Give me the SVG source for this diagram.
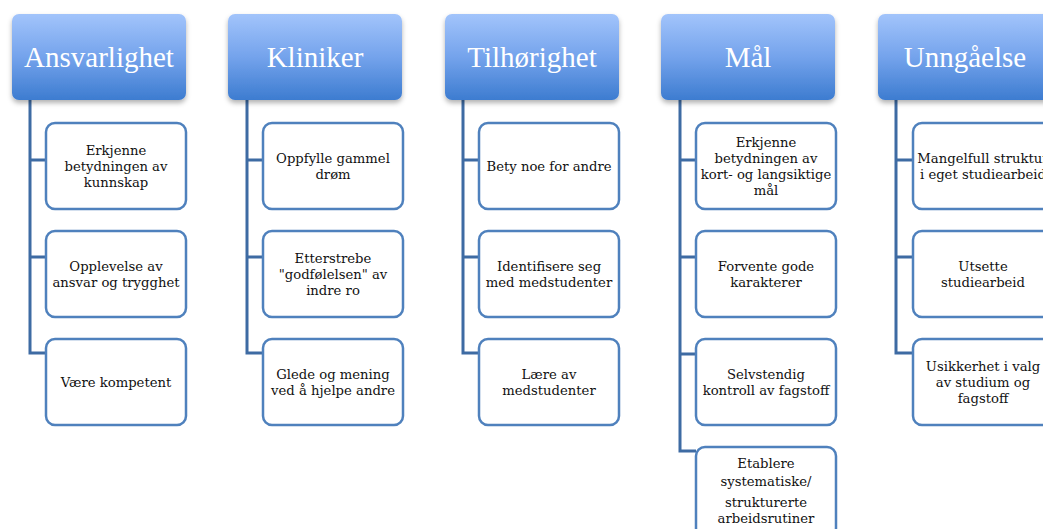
<svg xmlns="http://www.w3.org/2000/svg" width="1043" height="529" viewBox="0 0 1043 529">
<defs>
<linearGradient id="hg" x1="0" y1="0" x2="0" y2="1">
<stop offset="0" stop-color="#a2c4fb"/>
<stop offset="0.5" stop-color="#74a3ec"/>
<stop offset="1" stop-color="#3d7cd0"/>
</linearGradient>
<filter id="sh" x="-10%" y="-10%" width="120%" height="130%">
<feDropShadow dx="0" dy="3" stdDeviation="2.5" flood-color="#000" flood-opacity="0.3"/>
</filter>
<style>
.hd{fill:url(#hg);filter:url(#sh)}
.ht{font-family:"Liberation Serif","DejaVu Serif",serif;font-size:29px;fill:#fff;text-anchor:middle}
.bx{fill:#fff;stroke:#4f81bd;stroke-width:2.5}
.bt{font-family:"DejaVu Serif","Liberation Serif",serif;font-size:13.2px;fill:#111;text-anchor:middle}
.cn{fill:none;stroke:#3e6ba3;stroke-width:3}
</style>
</defs>
<rect width="1043" height="529" fill="#fff"/>
<g id="connectors">
<path class="cn" d="M30 100V353H46M30 160H46M30 257H46"/>
<path class="cn" d="M247 100V353H263M247 160H263M247 257H263"/>
<path class="cn" d="M463 100V353H479M463 160H479M463 257H479"/>
<path class="cn" d="M680 100V451H696M680 160H696M680 257H696M680 354H696"/>
<path class="cn" d="M896 100V353H913M896 160H913M896 257H913"/>
</g>
<g id="h1"><rect class="hd" x="12" y="14" width="174" height="86" rx="7"/><text class="ht" x="99" y="67">Ansvarlighet</text></g>
<g id="h2"><rect class="hd" x="228" y="14" width="174" height="86" rx="7"/><text class="ht" x="315" y="67">Kliniker</text></g>
<g id="h3"><rect class="hd" x="445" y="14" width="174" height="86" rx="7"/><text class="ht" x="532" y="67">Tilhørighet</text></g>
<g id="h4"><rect class="hd" x="661" y="14" width="174" height="86" rx="7"/><text class="ht" x="748" y="67">Mål</text></g>
<g id="h5"><rect class="hd" x="878" y="14" width="174" height="86" rx="7"/><text class="ht" x="965" y="67">Unngåelse</text></g>

<g id="a1"><rect class="bx" x="46" y="123" width="140" height="86" rx="9"/><text class="bt"><tspan x="116" y="155">Erkjenne</tspan><tspan x="116" y="171">betydningen av</tspan><tspan x="116" y="187">kunnskap</tspan></text></g>
<g id="a2"><rect class="bx" x="46" y="231" width="140" height="86" rx="9"/><text class="bt"><tspan x="116" y="271">Opplevelse av</tspan><tspan x="116" y="287">ansvar og trygghet</tspan></text></g>
<g id="a3"><rect class="bx" x="46" y="339" width="140" height="86" rx="9"/><text class="bt" x="116" y="387">Være kompetent</text></g>

<g id="k1"><rect class="bx" x="263" y="123" width="140" height="86" rx="9"/><text class="bt"><tspan x="333" y="163">Oppfylle gammel</tspan><tspan x="333" y="179">drøm</tspan></text></g>
<g id="k2"><rect class="bx" x="263" y="231" width="140" height="86" rx="9"/><text class="bt"><tspan x="333" y="263">Etterstrebe</tspan><tspan x="333" y="279">"godfølelsen" av</tspan><tspan x="333" y="295">indre ro</tspan></text></g>
<g id="k3"><rect class="bx" x="263" y="339" width="140" height="86" rx="9"/><text class="bt"><tspan x="333" y="379">Glede og mening</tspan><tspan x="333" y="395">ved å hjelpe andre</tspan></text></g>

<g id="t1"><rect class="bx" x="479" y="123" width="140" height="86" rx="9"/><text class="bt" x="549" y="171">Bety noe for andre</text></g>
<g id="t2"><rect class="bx" x="479" y="231" width="140" height="86" rx="9"/><text class="bt"><tspan x="549" y="271">Identifisere seg</tspan><tspan x="549" y="287">med medstudenter</tspan></text></g>
<g id="t3"><rect class="bx" x="479" y="339" width="140" height="86" rx="9"/><text class="bt"><tspan x="549" y="379">Lære av</tspan><tspan x="549" y="395">medstudenter</tspan></text></g>

<g id="m1"><rect class="bx" x="696" y="123" width="140" height="86" rx="9"/><text class="bt"><tspan x="766" y="147">Erkjenne</tspan><tspan x="766" y="163">betydningen av</tspan><tspan x="766" y="179">kort- og langsiktige</tspan><tspan x="766" y="195">mål</tspan></text></g>
<g id="m2"><rect class="bx" x="696" y="231" width="140" height="86" rx="9"/><text class="bt"><tspan x="766" y="271">Forvente gode</tspan><tspan x="766" y="287">karakterer</tspan></text></g>
<g id="m3"><rect class="bx" x="696" y="339" width="140" height="86" rx="9"/><text class="bt"><tspan x="766" y="379">Selvstendig</tspan><tspan x="766" y="395">kontroll av fagstoff</tspan></text></g>
<g id="m4"><rect class="bx" x="696" y="447" width="140" height="90" rx="9"/><text class="bt"><tspan x="766" y="468">Etablere</tspan><tspan x="766" y="486">systematiske/</tspan><tspan x="766" y="507">strukturerte</tspan><tspan x="766" y="523">arbeidsrutiner</tspan></text></g>

<g id="u1"><rect class="bx" x="913" y="123" width="140" height="86" rx="9"/><text class="bt"><tspan x="983" y="163">Mangelfull struktur</tspan><tspan x="983" y="179">i eget studiearbeid</tspan></text></g>
<g id="u2"><rect class="bx" x="913" y="231" width="140" height="86" rx="9"/><text class="bt"><tspan x="983" y="271">Utsette</tspan><tspan x="983" y="287">studiearbeid</tspan></text></g>
<g id="u3"><rect class="bx" x="913" y="339" width="140" height="86" rx="9"/><text class="bt"><tspan x="983" y="371">Usikkerhet i valg</tspan><tspan x="983" y="387">av studium og</tspan><tspan x="983" y="403">fagstoff</tspan></text></g>
</svg>
